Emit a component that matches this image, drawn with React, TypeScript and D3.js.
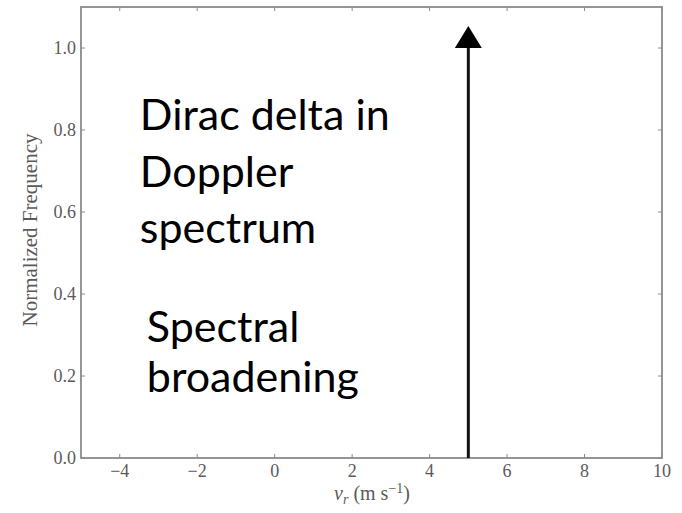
import React, { useEffect, useRef } from 'react';
import * as d3 from 'd3';

const xTicks = [-4, -2, 0, 2, 4, 6, 8, 10];
const yTicks = [0.0, 0.2, 0.4, 0.6, 0.8, 1.0];
const xDomain = [-5, 10];
const yDomain = [0, 1.1];
// the delta spike: position and height
const deltaX = 5;
const deltaHeight = 1.0;
const annotations = [
  { lines: ['Dirac delta in', 'Doppler', 'spectrum'], x: -3.48, y: 0.8, gap: 56.5 },
  { lines: ['Spectral', 'broadening'], x: -3.3, y: 0.283, gap: 50 },
];

export default function App() {
  const ref = useRef<SVGSVGElement | null>(null);

  useEffect(() => {
    const width = 682;
    const height = 513;
    const left = 81;
    const right = 662;
    const top = 7;
    const bottom = 458;
    const axisColor = '#8a8a8a';
    const textColor = '#5a5a5a';
    const serif = '"Liberation Serif", "DejaVu Serif", serif';

    const svg = d3.select(ref.current);
    svg.selectAll('*').remove();
    svg.attr('width', width).attr('height', height);

    const x = d3.scaleLinear().domain(xDomain).range([left, right]);
    const y = d3.scaleLinear().domain(yDomain).range([bottom, top]);

    // Frame
    svg.append('rect')
      .attr('x', left).attr('y', top)
      .attr('width', right - left).attr('height', bottom - top)
      .attr('fill', 'none').attr('stroke', axisColor).attr('stroke-width', 1.8);

    // Ticks on all sides (inward)
    const tl = 4;
    xTicks.forEach(t => {
      svg.append('line').attr('x1', x(t)).attr('x2', x(t)).attr('y1', bottom).attr('y2', bottom - tl)
        .attr('stroke', axisColor).attr('stroke-width', 1);
      svg.append('line').attr('x1', x(t)).attr('x2', x(t)).attr('y1', top).attr('y2', top + tl)
        .attr('stroke', axisColor).attr('stroke-width', 1);
      svg.append('text').attr('x', x(t)).attr('y', 477)
        .attr('text-anchor', 'middle')
        .style('font-family', serif)
        .style('font-size', '18px').style('fill', textColor)
        .text(t < 0 ? '\u2212' + Math.abs(t) : String(t));
    });
    yTicks.forEach(t => {
      svg.append('line').attr('x1', left).attr('x2', left + tl).attr('y1', y(t)).attr('y2', y(t))
        .attr('stroke', axisColor).attr('stroke-width', 1);
      svg.append('line').attr('x1', right).attr('x2', right - tl).attr('y1', y(t)).attr('y2', y(t))
        .attr('stroke', axisColor).attr('stroke-width', 1);
      svg.append('text').attr('x', 76).attr('y', y(t)).attr('dy', '0.35em')
        .attr('text-anchor', 'end')
        .style('font-family', serif)
        .style('font-size', '18px').style('fill', textColor)
        .text(t.toFixed(1));
    });

    // Axis labels
    svg.append('text')
      .attr('transform', `translate(37, 230) rotate(-90)`)
      .attr('text-anchor', 'middle')
      .style('font-family', serif)
      .style('font-size', '21px').style('fill', textColor)
      .text('Normalized Frequency');

    const xl = svg.append('text')
      .attr('x', 372).attr('y', 500)
      .attr('text-anchor', 'middle')
      .style('font-family', serif)
      .style('font-size', '20px').style('fill', textColor);
    xl.append('tspan').style('font-style', 'italic').text('v');
    xl.append('tspan').attr('dy', 4).style('font-size', '14px').style('font-style', 'italic').text('r');
    xl.append('tspan').attr('dy', -4).text(' (m s');
    xl.append('tspan').attr('dy', -7).style('font-size', '14px').text('\u22121');
    xl.append('tspan').attr('dy', 7).text(')');

    // Delta arrow
    const ax = x(deltaX);
    const baseY = y(deltaHeight);
    svg.append('line')
      .attr('x1', ax).attr('x2', ax).attr('y1', y(0)).attr('y2', baseY)
      .attr('stroke', '#111').attr('stroke-width', 3);
    svg.append('path')
      .attr('d', `M${ax - 13.5},${baseY} L${ax + 13.5},${baseY} L${ax},${baseY - 22} Z`)
      .attr('fill', '#000');

    // Annotations
    annotations.forEach(a => {
      const t = svg.append('text')
        .attr('x', x(a.x)).attr('y', y(a.y))
        .style('font-family', 'Lato, "Open Sans", sans-serif')
        .style('font-size', '43px').style('fill', '#000');
      a.lines.forEach((l, i) => {
        t.append('tspan').attr('x', x(a.x)).attr('dy', i === 0 ? 0 : a.gap).text(l);
      });
    });
  }, []);

  return (
    <div>
      <svg ref={ref} style={{ position: 'absolute', left: 0, top: 0 }}></svg>
    </div>
  );
}
